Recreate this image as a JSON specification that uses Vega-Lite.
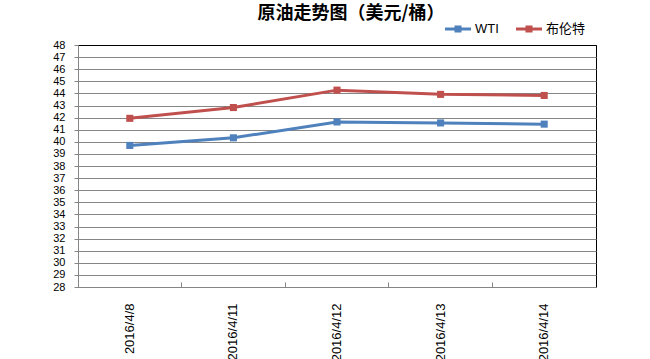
{
  "$schema": "https://vega.github.io/schema/vega-lite/v6.json",
  "width": 518,
  "height": 242,
  "autosize": {"type": "none"},
  "padding": {"left": 78, "top": 45, "right": 54, "bottom": 72},
  "background": "white",
  "title": {
    "text": "原油走势图（美元/桶）",
    "font": "Noto Sans CJK SC",
    "fontSize": 18,
    "fontWeight": "bold",
    "color": "#000000",
    "anchor": "middle",
    "offset": -7,
    "dx": 14
  },
  "data": {
    "values": [
      {"date": "2016/4/8", "series": "WTI", "price": 39.7},
      {"date": "2016/4/11", "series": "WTI", "price": 40.33},
      {"date": "2016/4/12", "series": "WTI", "price": 41.64},
      {"date": "2016/4/13", "series": "WTI", "price": 41.56},
      {"date": "2016/4/14", "series": "WTI", "price": 41.46},
      {"date": "2016/4/8", "series": "布伦特", "price": 41.94},
      {"date": "2016/4/11", "series": "布伦特", "price": 42.83},
      {"date": "2016/4/12", "series": "布伦特", "price": 44.27},
      {"date": "2016/4/13", "series": "布伦特", "price": 43.92},
      {"date": "2016/4/14", "series": "布伦特", "price": 43.83}
    ]
  },
  "encoding": {
    "x": {
      "field": "date",
      "type": "ordinal",
      "sort": null,
      "bandPosition": 0.5,
      "scale": {"type": "band", "paddingInner": 0, "paddingOuter": 0},
      "axis": {
        "title": null,
        "bandPosition": 0,
        "labelAngle": -90,
        "labelAlign": "right",
        "labelBaseline": "middle",
        "labelFont": "Liberation Sans",
        "labelFontSize": 13,
        "labelColor": "#000000",
        "labelPadding": 21,
        "tickSize": -5,
        "tickColor": "#868686",
        "domainColor": "#868686",
        "grid": false
      }
    },
    "y": {
      "field": "price",
      "type": "quantitative",
      "scale": {"domain": [28, 48], "nice": false, "zero": false},
      "axis": {
        "title": null,
        "values": [28, 29, 30, 31, 32, 33, 34, 35, 36, 37, 38, 39, 40, 41, 42, 43, 44, 45, 46, 47, 48],
        "labelFont": "Liberation Sans",
        "labelFontSize": 11,
        "labelColor": "#000000",
        "labelPadding": 9,
        "tickSize": 4,
        "tickColor": "#868686",
        "domainColor": "#868686",
        "grid": true,
        "gridColor": {"condition": {"test": "datum.value === 48", "value": "#000000"}, "value": "#868686"},
        "gridOpacity": 1
      }
    },
    "color": {
      "field": "series",
      "type": "nominal",
      "scale": {"domain": ["WTI", "布伦特"], "range": ["#4F81BD", "#C0504D"]},
      "legend": {
        "title": null,
        "orient": "none",
        "direction": "horizontal",
        "legendX": 367,
        "legendY": -29,
        "padding": 0,
        "symbolType": "M-1,-0.115H1V0.115H-1Z M-0.27,-0.27H0.27V0.27H-0.27Z",
        "symbolSize": 676,
        "symbolStrokeWidth": 0,
        "labelOffset": 4,
        "columnPadding": 17,
        "labelFont": "Liberation Sans, Noto Sans CJK SC",
        "labelFontSize": 13,
        "labelColor": "#000000",
        "labelLimit": 200,
        "encode": {
          "symbols": {
            "update": {
              "fill": {"scale": "color", "field": "value"},
              "fillOpacity": {"value": 1},
              "opacity": {"value": 1},
              "strokeWidth": {"value": 0}
            }
          }
        }
      }
    }
  },
  "layer": [
    {"mark": {"type": "line", "strokeWidth": 3}},
    {"mark": {"type": "point", "shape": "square", "filled": true, "size": 50, "opacity": 1}}
  ],
  "config": {
    "view": {"stroke": "#000000", "strokeWidth": 1}
  }
}
